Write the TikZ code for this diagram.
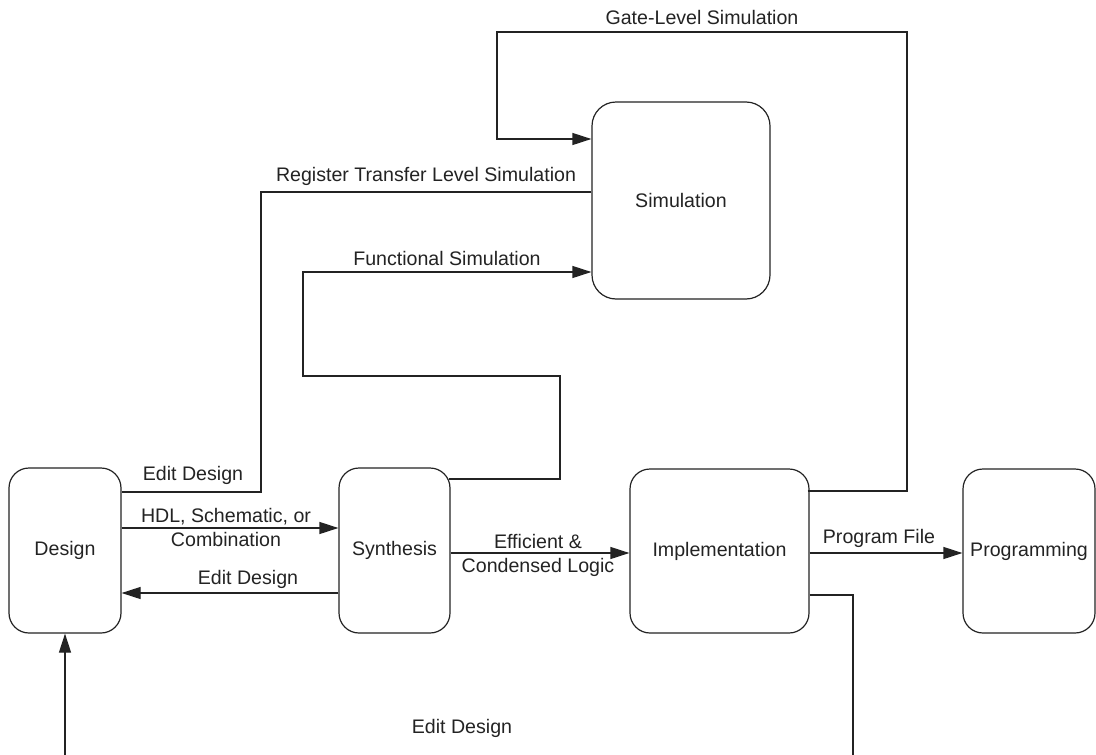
\documentclass[tikz,border=0pt]{standalone}
\usepackage{fontspec}
\setmainfont{Liberation Sans}
\usetikzlibrary{arrows.meta}
\definecolor{ink}{RGB}{35,35,35}
\tikzset{
  box/.style={draw=ink, line width=1.2pt, rounded corners=20pt, inner sep=0pt,
    font=\fontsize{19.6}{24}\selectfont, text=ink},
  wire/.style={draw=ink, line width=1.2pt},
  arr/.style={wire, -{Triangle[length=19pt,width=12pt]}},
  lbl/.style={inner sep=0pt, align=center, font=\fontsize{19.6}{24}\selectfont, text=ink}
}
\begin{document}
\begin{tikzpicture}[x=1pt,y=-1pt]
\useasboundingbox (0,0) rectangle (1096,755);
\clip (0,0) rectangle (1096,755);

% process boxes
\node[box, minimum width=112pt, minimum height=165pt] (design) at (65,550.5) {Design};
\node[box, minimum width=111pt, minimum height=165pt] (synth) at (394.5,550.5) {Synthesis};
\node[box, minimum width=179pt, minimum height=164pt] (impl) at (719.5,551) {Implementation};
\node[box, minimum width=132pt, minimum height=164pt] (prog) at (1029,551) {Programming};
\node[box, minimum width=178pt, minimum height=197pt, rounded corners=24pt] (sim) at (681,200.5) {Simulation};

% forward flow
\draw[arr] (design.east |- 0,528) -- (synth.west |- 0,528);
\node[lbl] (lhdl) at (226,527) {HDL, Schematic, or\\Combination};

\draw[arr] (synth.east |- 0,553) -- (impl.west |- 0,553);
\node[lbl] (leff) at (538,555) {Efficient \&\\Condensed Logic};

\draw[arr] (impl.east |- 0,553) -- (prog.west |- 0,553);
\node[lbl] (lprog) at (879,538) {Program File};

% edit loop from synthesis
\draw[arr] (synth.west |- 0,593) -- (design.east |- 0,593);
\node[lbl] (ledit2) at (248,579) {Edit Design};

% simulation paths
\draw[arr] ([xshift=-2pt]impl.east |- 0,491) -| (907,32) -| (497,139) -- (sim.west |- 0,139);
\node[lbl] (lgate) at (702,17) {Gate-Level Simulation};

\draw[wire] (sim.west |- 0,192) -| (261,492) -- (design.east |- 0,492);
\node[lbl] (lrtl) at (426,176) {Register Transfer Level Simulation};
\node[lbl] (ledit1) at (193,475) {Edit Design};

\draw[arr] ([xshift=-2pt]synth.east |- 0,479) -| (560,376) -| (303,272) -- (sim.west |- 0,272);
\node[lbl] (lfunc) at (447,258) {Functional Simulation};

% edit loop from implementation
\draw[arr] (impl.east |- 0,595) -| (853,775) -| (design.south);
\node[lbl] (ledit3) at (462,728) {Edit Design};
\end{tikzpicture}
\end{document}
